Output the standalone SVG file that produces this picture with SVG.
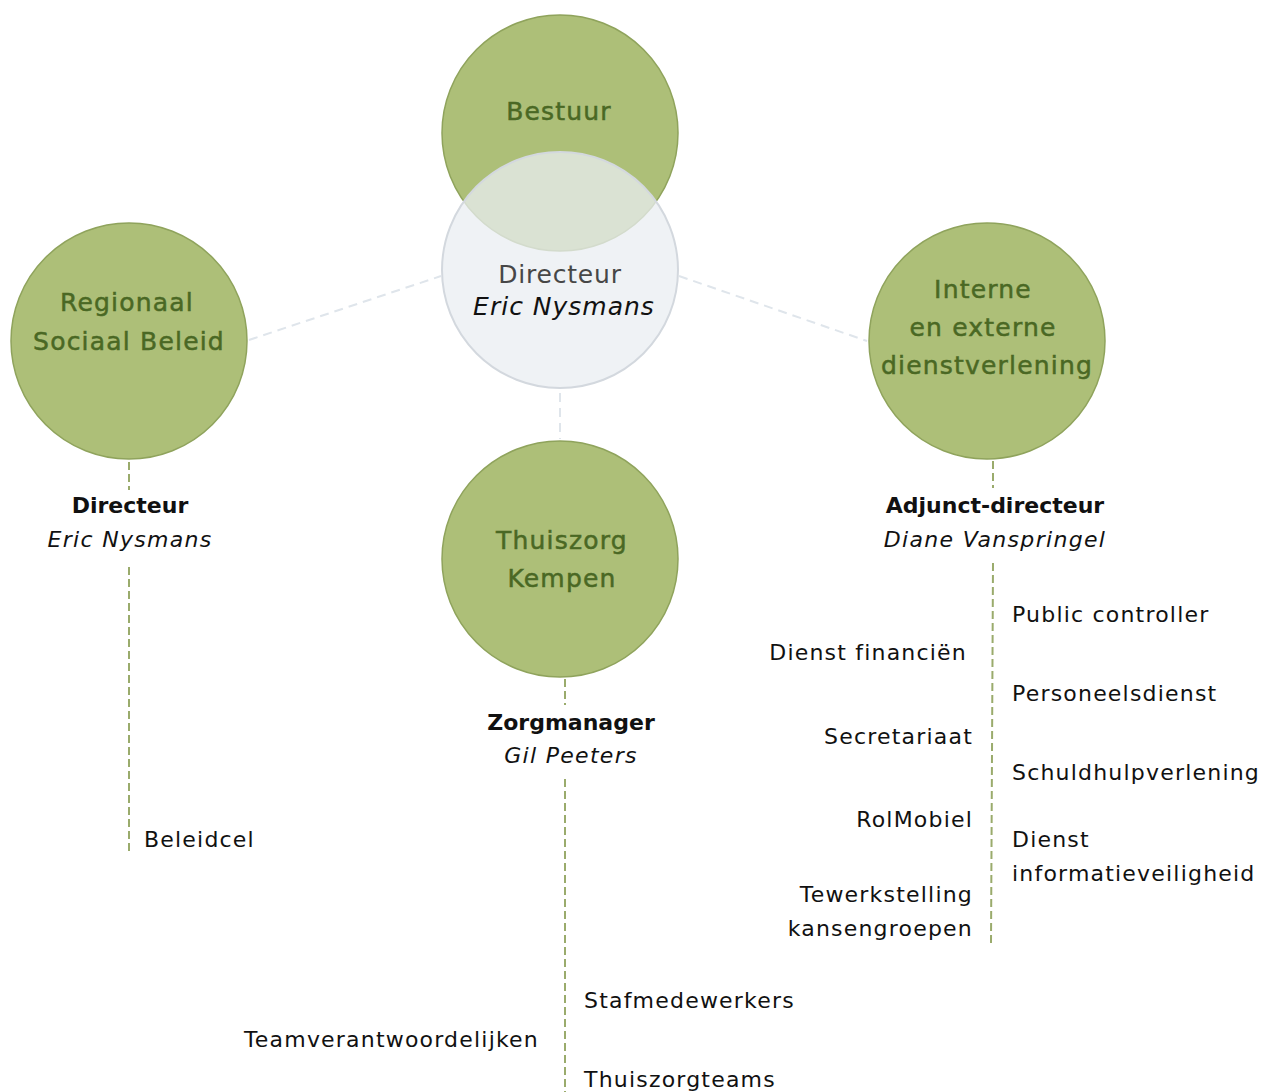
<svg xmlns="http://www.w3.org/2000/svg" width="1264" height="1092" viewBox="0 0 1264 1092">
<style>
  .green { fill: #adbf78; stroke: #8fa35c; stroke-width: 1.5; }
  .dir { fill: #e9edf1; fill-opacity: 0.75; stroke: #d3d8de; stroke-width: 2; }
  .ctext { font-family: "DejaVu Sans", "Noto Sans", sans-serif; font-size: 25px; fill: #4a6824; stroke: #4a6824; stroke-width: 0.5; letter-spacing: 1.2px; text-anchor: middle; }
  .dtext { font-family: "DejaVu Sans", "Noto Sans", sans-serif; font-size: 25px; fill: #474747; letter-spacing: 0.8px; text-anchor: middle; }
  .ital { font-style: italic; fill: #111; letter-spacing: 1px; }
  .role { font-family: "DejaVu Sans", "Noto Sans", sans-serif; font-size: 22px; font-weight: bold; fill: #111; text-anchor: middle; }
  .name { font-family: "DejaVu Sans", "Noto Sans", sans-serif; font-size: 22px; font-style: italic; fill: #111; letter-spacing: 1.3px; text-anchor: middle; }
  .item { font-family: "DejaVu Sans", "Noto Sans", sans-serif; font-size: 22px; fill: #111; letter-spacing: 1.2px; }
  .end { text-anchor: end; }
  .gray { stroke: #dfe5eb; stroke-width: 2; stroke-dasharray: 9 6; fill: none; }
  .gdash { stroke: #9aab6c; stroke-width: 2; stroke-dasharray: 8 4; fill: none; }
</style>
<g id="connectors">
  <line class="gray" x1="249" y1="340" x2="441" y2="276"/>
  <line class="gray" x1="679" y1="276" x2="867" y2="341"/>
  <line class="gray" x1="560" y1="393" x2="560" y2="439"/>
  <line class="gdash" x1="129" y1="462" x2="129" y2="490"/>
  <line class="gdash" x1="129" y1="567" x2="129" y2="851"/>
  <line class="gdash" x1="993" y1="461" x2="993" y2="488"/>
  <line class="gdash" x1="993" y1="563" x2="991" y2="944"/>
  <line class="gdash" x1="565" y1="679" x2="565" y2="705"/>
  <line class="gdash" x1="565" y1="779" x2="565" y2="1092"/>
</g>
<g id="bestuur">
  <circle class="green" cx="560" cy="133" r="118"/>
  <text class="ctext" x="559" y="120">Bestuur</text>
</g>
<g id="directeur">
  <circle class="dir" cx="560" cy="270" r="118"/>
  <text class="dtext" x="560" y="283">Directeur</text>
  <text class="dtext ital" x="564" y="315">Eric Nysmans</text>
</g>
<g id="regionaal">
  <circle class="green" cx="129" cy="341" r="118"/>
  <text class="ctext" x="127" y="311">Regionaal</text>
  <text class="ctext" x="129" y="350">Sociaal Beleid</text>
</g>
<g id="interne">
  <circle class="green" cx="987" cy="341" r="118"/>
  <text class="ctext" x="983" y="298">Interne</text>
  <text class="ctext" x="983" y="336">en externe</text>
  <text class="ctext" x="987" y="374">dienstverlening</text>
</g>
<g id="thuiszorg">
  <circle class="green" cx="560" cy="559" r="118"/>
  <text class="ctext" x="562" y="549">Thuiszorg</text>
  <text class="ctext" x="562" y="587">Kempen</text>
</g>
<g id="label-regionaal">
  <text class="role" x="130" y="513">Directeur</text>
  <text class="name" x="130" y="547">Eric Nysmans</text>
  <text class="item" x="144" y="847">Beleidcel</text>
</g>
<g id="label-interne">
  <text class="role" x="995" y="513">Adjunct-directeur</text>
  <text class="name" x="995" y="547">Diane Vanspringel</text>
  <text class="item" x="1012" y="622">Public controller</text>
  <text class="item" x="1012" y="701">Personeelsdienst</text>
  <text class="item" x="1012" y="780">Schuldhulpverlening</text>
  <text class="item" x="1012" y="847">Dienst</text>
  <text class="item" x="1012" y="881">informatieveiligheid</text>
  <text class="item end" x="967" y="660">Dienst financiën</text>
  <text class="item end" x="973" y="744">Secretariaat</text>
  <text class="item end" x="973" y="827">RolMobiel</text>
  <text class="item end" x="973" y="902">Tewerkstelling</text>
  <text class="item end" x="973" y="936">kansengroepen</text>
</g>
<g id="label-thuiszorg">
  <text class="role" x="571" y="730">Zorgmanager</text>
  <text class="name" x="571" y="763">Gil Peeters</text>
  <text class="item" x="584" y="1008">Stafmedewerkers</text>
  <text class="item" x="584" y="1087">Thuiszorgteams</text>
  <text class="item end" x="539" y="1047">Teamverantwoordelijken</text>
</g>
</svg>
